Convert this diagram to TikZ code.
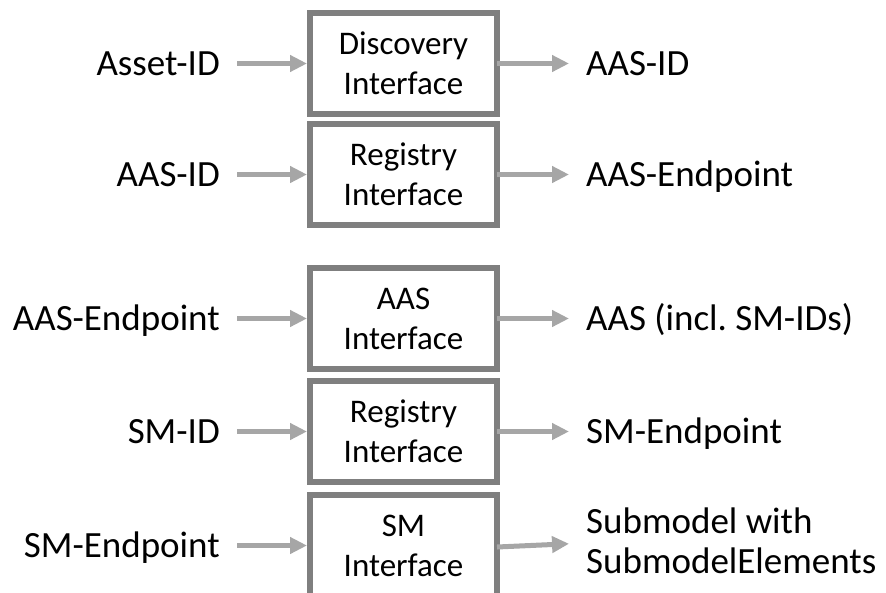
\documentclass[tikz,border=0pt]{standalone}
\usepackage{fontspec}
\setmainfont{Carlito}
\frenchspacing
\usetikzlibrary{arrows.meta}
\definecolor{boxline}{HTML}{7F7F7F}
\definecolor{arrowgray}{HTML}{A6A6A6}
\tikzset{
  ifacebox/.style={draw=boxline, line width=6pt, minimum width=187pt, minimum height=101pt,
    inner sep=0pt, align=center, font=\fontsize{33}{40}\selectfont,
    text height=61.3pt, text depth=0pt},
  inlabel/.style={anchor=east, inner sep=0pt, font=\fontsize{37}{40}\selectfont,
    text height=23.8pt, text depth=0pt},
  outlabel/.style={anchor=west, inner sep=0pt, font=\fontsize{37}{40}\selectfont,
    text height=23.8pt, text depth=0pt},
  outlabeltwo/.style={anchor=west, inner sep=0pt, align=left, font=\fontsize{37}{40}\selectfont,
    text height=63.8pt, text depth=0pt},
  flow/.style={draw=arrowgray, line width=5pt, -{Triangle[length=17pt,width=16pt]}},
}
\begin{document}
\begin{tikzpicture}[x=1pt,y=-1pt]
\useasboundingbox (0,0) rectangle (886,592);

% interface boxes
\node[ifacebox] (b1) at (403.5,63.5) {Discovery\\Interface};
\node[ifacebox] (b2) at (403.5,174.5) {Registry\\Interface};
\node[ifacebox] (b3) at (403.5,318.5) {AAS\\Interface};
\node[ifacebox] (b4) at (403.5,431.5) {Registry\\Interface};
\node[ifacebox] (b5) at (403.5,545.5) {SM\\Interface};

% inputs
\node[inlabel] (l1) at (220,63.5) {Asset-ID};
\node[inlabel] (l2) at (220,174.5) {AAS-ID};
\node[inlabel] (l3) at (220,318.5) {AAS-Endpoint};
\node[inlabel] (l4) at (220,431.5) {SM-ID};
\node[inlabel] (l5) at (220,545.5) {SM-Endpoint};

% outputs
\node[outlabel] (r1) at (586,63.5) {AAS-ID};
\node[outlabel] (r2) at (586,174.5) {AAS-Endpoint};
\node[outlabel] (r3) at (586,318.5) {AAS (incl. SM-IDs)};
\node[outlabel] (r4) at (586,431.5) {SM-Endpoint};
\node[outlabeltwo] (r5) at (586,542) {Submodel with\\SubmodelElements};

% request arrows
\foreach \i in {1,...,5}{
  \draw[flow, shorten <=17pt] (l\i.east) -- (b\i.west);
}
% response arrows
\foreach \i in {1,...,4}{
  \draw[flow, shorten >=17pt] ([xshift=-3pt]b\i.east) -- (r\i.west);
}
\draw[flow, shorten >=17pt] ([xshift=-3pt,yshift=-1.5pt]b5.east) -- ([yshift=-1pt]r5.west);
\end{tikzpicture}
\end{document}
